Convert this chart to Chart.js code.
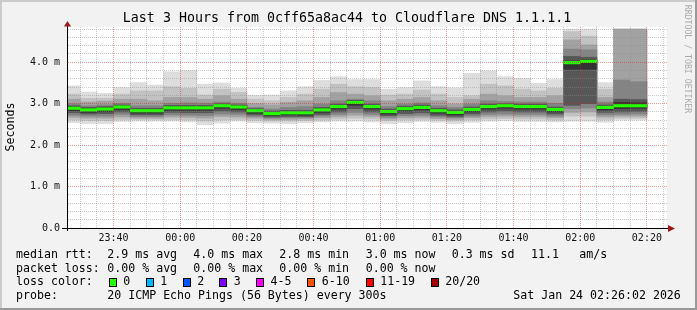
<!DOCTYPE html>
<html>
<head>
<meta charset="utf-8">
<title>Last 3 Hours - Cloudflare DNS</title>
<script src="https://cdn.jsdelivr.net/npm/chart.js@4.4.1/dist/chart.umd.min.js"></script>
<style>
    html, body { margin: 0; padding: 0; background: #f2f2f2; }
    canvas { display: block; }
</style>
</head>
<body>
<canvas id="smoke" width="697" height="310"></canvas>
<script>
// ========================================
// Data (values in ms)
// ========================================
const slots = ['23:25', '23:30', '23:35', '23:40', '23:45', '23:50', '23:55',
    '00:00', '00:05', '00:10', '00:15', '00:20', '00:25', '00:30', '00:35', '00:40', '00:45', '00:50', '00:55',
    '01:00', '01:05', '01:10', '01:15', '01:20', '01:25', '01:30', '01:35', '01:40', '01:45', '01:50', '01:55',
    '02:00', '02:05', '02:10', '02:15'];

const median = [2.89, 2.85, 2.87, 2.92, 2.83, 2.83, 2.90, 2.90, 2.90, 2.95, 2.92, 2.83, 2.76, 2.78, 2.78, 2.85, 2.93, 3.03,
    2.93, 2.81, 2.88, 2.91, 2.83, 2.79, 2.86, 2.93, 2.95, 2.93, 2.93, 2.86, 3.99, 4.02, 2.91, 2.95, 2.95];

// smoke: outermost pings (1) to innermost (6)
const smokeHi1 = [3.43, 3.28, 3.25, 3.39, 3.51, 3.45, 3.77, 3.80, 3.47, 3.50, 3.37, 3.20, 3.21, 3.31, 3.41, 3.56, 3.65, 3.58,
    3.58, 3.35, 3.39, 3.55, 3.41, 3.38, 3.73, 3.79, 3.65, 3.61, 3.49, 3.58, 4.80, 4.80, 3.51, 4.80, 4.80];
const smokeHi2 = [3.23, 3.13, 3.13, 3.23, 3.31, 3.31, 3.41, 3.37, 3.21, 3.35, 3.27, 3.11, 3.07, 3.15, 3.23, 3.35, 3.47, 3.41,
    3.39, 3.21, 3.23, 3.33, 3.23, 3.15, 3.19, 3.47, 3.43, 3.35, 3.31, 3.37, 4.74, 4.63, 3.35, 4.80, 4.80];
const smokeHi3 = [3.11, 3.04, 3.06, 3.11, 3.11, 3.07, 3.15, 3.15, 3.11, 3.19, 3.11, 3.00, 2.97, 3.03, 3.07, 3.15, 3.27, 3.23,
    3.19, 3.07, 3.11, 3.15, 3.07, 2.99, 3.11, 3.23, 3.19, 3.15, 3.15, 3.19, 4.54, 4.42, 3.15, 4.80, 4.80];
const smokeHi4 = [3.00, 2.95, 2.97, 3.01, 2.95, 2.95, 3.01, 3.02, 3.01, 3.04, 3.01, 2.91, 2.87, 2.91, 2.93, 2.99, 3.07, 3.11,
    3.07, 2.93, 2.99, 3.02, 2.95, 2.91, 2.99, 3.07, 3.05, 3.04, 3.04, 3.01, 4.32, 4.30, 3.04, 3.57, 3.53];
const smokeHi5 = [2.95, 2.91, 2.93, 2.97, 2.89, 2.89, 2.96, 2.96, 2.96, 3.00, 2.97, 2.88, 2.82, 2.84, 2.84, 2.91, 2.99, 3.08,
    2.99, 2.87, 2.94, 2.97, 2.89, 2.85, 2.92, 2.99, 3.00, 2.99, 2.99, 2.92, 4.14, 4.12, 2.97, 3.11, 3.10];
const smokeHi6 = [2.92, 2.88, 2.90, 2.95, 2.86, 2.86, 2.93, 2.93, 2.93, 2.98, 2.95, 2.86, 2.79, 2.81, 2.81, 2.88, 2.96, 3.06,
    2.96, 2.84, 2.91, 2.94, 2.86, 2.82, 2.89, 2.96, 2.98, 2.96, 2.96, 2.89, 4.03, 4.06, 2.94, 3.03, 3.02];

const smokeLo6 = [2.83, 2.79, 2.81, 2.86, 2.77, 2.77, 2.84, 2.84, 2.84, 2.89, 2.86, 2.77, 2.71, 2.73, 2.72, 2.79, 2.87, 2.96,
    2.87, 2.75, 2.82, 2.85, 2.77, 2.73, 2.80, 2.87, 2.89, 2.87, 2.87, 2.80, 3.83, 3.83, 2.85, 2.88, 2.89];
const smokeLo5 = [2.78, 2.75, 2.76, 2.80, 2.73, 2.73, 2.79, 2.78, 2.78, 2.82, 2.80, 2.73, 2.68, 2.69, 2.69, 2.74, 2.80, 2.88,
    2.80, 2.71, 2.76, 2.78, 2.72, 2.69, 2.75, 2.80, 2.82, 2.80, 2.80, 2.75, 2.96, 3.00, 2.79, 2.80, 2.81];
const smokeLo4 = [2.72, 2.70, 2.70, 2.74, 2.69, 2.69, 2.73, 2.72, 2.71, 2.75, 2.74, 2.69, 2.65, 2.66, 2.66, 2.70, 2.74, 2.79,
    2.74, 2.67, 2.71, 2.72, 2.68, 2.66, 2.70, 2.74, 2.75, 2.74, 2.74, 2.70, 2.88, 2.90, 2.73, 2.74, 2.75];
const smokeLo3 = [2.67, 2.65, 2.65, 2.68, 2.65, 2.65, 2.68, 2.67, 2.65, 2.69, 2.68, 2.65, 2.62, 2.62, 2.63, 2.66, 2.69, 2.72,
    2.69, 2.63, 2.66, 2.67, 2.64, 2.62, 2.66, 2.69, 2.70, 2.69, 2.69, 2.66, 2.79, 2.80, 2.68, 2.70, 2.70];
const smokeLo2 = [2.61, 2.59, 2.59, 2.62, 2.62, 2.62, 2.62, 2.61, 2.58, 2.61, 2.62, 2.60, 2.58, 2.58, 2.59, 2.61, 2.63, 2.65,
    2.63, 2.59, 2.61, 2.62, 2.60, 2.58, 2.61, 2.63, 2.64, 2.63, 2.63, 2.61, 2.70, 2.70, 2.62, 2.65, 2.65];
const smokeLo1 = [2.54, 2.52, 2.52, 2.57, 2.58, 2.58, 2.58, 2.56, 2.49, 2.53, 2.58, 2.54, 2.53, 2.52, 2.54, 2.56, 2.58, 2.58,
    2.56, 2.52, 2.54, 2.57, 2.55, 2.52, 2.55, 2.58, 2.59, 2.57, 2.57, 2.56, 2.58, 2.58, 2.55, 2.60, 2.60];

// axis ticks
const valueTicks = [0, 1, 2, 3, 4];
const valueLabels = ['0.0', '1.0 m', '2.0 m', '3.0 m', '4.0 m'];
const timeTicks = [-20, 0, 20, 40, 60, 80, 100, 120, 140];
const timeLabels = ['23:40', '00:00', '00:20', '00:40', '01:00', '01:20', '01:40', '02:00', '02:20'];

// legend
const titleText = 'Last 3 Hours from 0cff65a8ac44 to Cloudflare DNS 1.1.1.1';
const rttStats = ['median rtt:', '2.9 ms avg', '4.0 ms max', '2.8 ms min', '3.0 ms now', '0.3 ms sd', '11.1', 'am/s'];
const lossStats = ['packet loss:', '0.00 % avg', '0.00 % max', '0.00 % min', '0.00 % now'];
const lossLabels = ['0', '1', '2', '3', '4-5', '6-10', '11-19', '20/20'];
const lossColors = ['#26ff00', '#00b8ff', '#0059ff', '#7e00ff', '#ff00ff', '#ff5500', '#ff0000', '#a10000'];
const probeText = '20 ICMP Echo Pings (56 Bytes) every 300s';
const stampText = 'Sat Jan 24 02:26:02 2026';

// ========================================
// Helpers
// ========================================
const MONO = "'DejaVu Sans Mono', 'Liberation Mono', monospace";
const X_MIN = -33.97;   // 23:26:02
const X_MAX = 146.03;   // 02:26:02

const toMinutes = (hhmm) => {
    const [h, m] = hhmm.split(':').map(Number);
    const t = h * 60 + m;
    return h >= 12 ? t - 1440 : t;
};

const bars = (lo, hi) => slots.map((s, i) => ({ x: toMinutes(s) + 2.5, y: [lo[i], hi[i]] }));

const layers = [
    { lo: smokeLo1, hi: smokeHi1, color: '#dddddd' },
    { lo: smokeLo2, hi: smokeHi2, color: '#c2c2c2' },
    { lo: smokeLo3, hi: smokeHi3, color: '#a2a2a2' },
    { lo: smokeLo4, hi: smokeHi4, color: '#848484' },
    { lo: smokeLo5, hi: smokeHi5, color: '#575757' },
    { lo: smokeLo6, hi: smokeHi6, color: '#333333' }
];

// first dataset is painted last, so the median goes first
const datasets = [{
    label: 'median',
    data: bars(median.map(v => v - 0.03), median.map(v => v + 0.03)),
    backgroundColor: lossColors[0]
}];
layers.slice().reverse().forEach((l, i) => {
    datasets.push({ label: 'smoke' + (6 - i), data: bars(l.lo, l.hi), backgroundColor: l.color });
});

// ========================================
// Frame, title and legend
// ========================================
const rrdFrame = {
    id: 'rrdFrame',
    beforeDraw(chart) {
        const { ctx, chartArea: a, width, height } = chart;
        ctx.save();
        ctx.fillStyle = '#f2f2f2';
        ctx.fillRect(0, 0, width, height);
        ctx.fillStyle = '#cbcbcb';
        ctx.fillRect(0, 0, width, 2);
        ctx.fillRect(0, 0, 2, height);
        ctx.fillStyle = '#999999';
        ctx.fillRect(0, height - 2, width, 2);
        ctx.fillRect(width - 2, 0, 2, height);
        ctx.fillStyle = '#ffffff';
        ctx.fillRect(a.left, a.top, a.right - a.left, a.bottom - a.top);
        ctx.restore();
    },
    afterDraw(chart) {
        const { ctx, chartArea: a } = chart;
        ctx.save();

        // axis stubs and arrows
        ctx.strokeStyle = '#000';
        ctx.lineWidth = 1;
        ctx.beginPath();
        ctx.moveTo(62, a.bottom + 0.5);
        ctx.lineTo(a.right + 3, a.bottom + 0.5);
        ctx.moveTo(a.left + 0.5, a.bottom + 3);
        ctx.lineTo(a.left + 0.5, a.top - 3);
        ctx.stroke();
        ctx.fillStyle = '#9b1b1b';
        ctx.beginPath();
        ctx.moveTo(a.right + 1, a.bottom - 3);
        ctx.lineTo(a.right + 8, a.bottom + 0.5);
        ctx.lineTo(a.right + 1, a.bottom + 4);
        ctx.closePath();
        ctx.fill();
        ctx.beginPath();
        ctx.moveTo(a.left - 3, a.top - 0.5);
        ctx.lineTo(a.left + 0.5, a.top - 6);
        ctx.lineTo(a.left + 4, a.top - 0.5);
        ctx.closePath();
        ctx.fill();

        ctx.fillStyle = '#000';
        ctx.textBaseline = 'middle';

        // title
        ctx.font = '13.3px ' + MONO;
        ctx.textAlign = 'center';
        ctx.fillText(titleText, 347, 19);

        // y axis title
        ctx.font = '11.6px ' + MONO;
        ctx.save();
        ctx.translate(11, 127);
        ctx.rotate(-Math.PI / 2);
        ctx.fillText('Seconds', 0, 0);
        ctx.restore();

        // watermark
        ctx.save();
        ctx.translate(687.5, 59);
        ctx.rotate(Math.PI / 2);
        ctx.font = '8.2px ' + MONO;
        ctx.fillStyle = '#aaaaaa';
        ctx.fillText('RRDTOOL / TOBI OETIKER', 0, 0);
        ctx.restore();

        // legend rows
        ctx.textAlign = 'left';
        ctx.font = '11.6px ' + MONO;
        const rttX = [16, 107.3, 193.3, 279.3, 365.7, 451.7, 531, 579.3];
        rttStats.forEach((t, i) => ctx.fillText(t, rttX[i], 255));
        lossStats.forEach((t, i) => ctx.fillText(t, rttX[i], 268.5));

        ctx.fillText('loss color:', 16, 282.3);
        const boxX = [108.7, 145.7, 182.7, 219.3, 256, 307.3, 365.7, 430.7];
        lossLabels.forEach((t, i) => {
            const x = Math.round(boxX[i]);
            ctx.fillStyle = '#000';
            ctx.fillRect(x, 278, 8, 9);
            ctx.fillStyle = lossColors[i];
            ctx.fillRect(x + 1, 279, 6, 7);
            ctx.fillStyle = '#000';
            ctx.fillText(t, boxX[i] + 14.5, 282.3);
        });

        ctx.fillText('probe:', 16, 295.7);
        ctx.fillText(probeText, 107.3, 295.7);
        ctx.fillText(stampText, 513.3, 295.7);
        ctx.restore();
    }
};

// ========================================
// Chart
// ========================================
const gridColor = (c, majors) => {
    const major = c.tick && majors.includes(c.tick.value);
    return major ? 'rgba(220, 30, 30, 0.45)' : 'rgba(140, 140, 140, 0.45)';
};

new Chart(document.getElementById('smoke'), {
    type: 'bar',
    data: { datasets },
    options: {
        responsive: false,
        animation: false,
        events: [],
        layout: { padding: { left: 0, right: 30, top: 27, bottom: 0 } },
        datasets: {
            bar: {
                grouped: false,
                barPercentage: 1,
                categoryPercentage: 1,
                borderWidth: 0,
                clip: 0
            }
        },
        plugins: {
            legend: { display: false },
            tooltip: { enabled: false },
            title: { display: false }
        },
        scales: {
            x: {
                type: 'linear',
                offset: false,
                min: X_MIN,
                max: X_MAX,
                afterFit: (s) => { s.height = 82; },
                afterBuildTicks: (s) => {
                    const t = [];
                    for (let m = -30; m <= 145; m += 5) t.push({ value: m });
                    s.ticks = t;
                },
                grid: {
                    z: 1,
                    offset: false,
                    drawTicks: false,
                    lineWidth: 1,
                    color: (c) => gridColor(c, timeTicks)
                },
                border: { z: 2, display: true, color: '#000', width: 1, dash: [1, 1] },
                ticks: {
                    autoSkip: false,
                    maxRotation: 0,
                    padding: 4,
                    color: '#111',
                    font: { family: MONO, size: 10 },
                    callback: (v) => {
                        const i = timeTicks.indexOf(v);
                        return i >= 0 ? timeLabels[i] : '';
                    }
                }
            },
            y: {
                type: 'linear',
                min: 0,
                max: 4.85,
                afterFit: (s) => { s.width = 67; },
                afterBuildTicks: (s) => {
                    const t = [];
                    for (let k = 0; k <= 24; k++) t.push({ value: Math.round(k * 2) / 10 });
                    s.ticks = t;
                },
                grid: {
                    z: 1,
                    drawTicks: false,
                    lineWidth: 1,
                    color: (c) => gridColor(c, valueTicks)
                },
                border: { z: 2, display: true, color: '#000', width: 1, dash: [1, 1] },
                ticks: {
                    autoSkip: false,
                    padding: 7,
                    color: '#111',
                    font: { family: MONO, size: 10 },
                    callback: (v) => {
                        const i = valueTicks.indexOf(v);
                        return i >= 0 ? valueLabels[i] : '';
                    }
                }
            }
        }
    },
    plugins: [rrdFrame]
});
</script>
</body>
</html>
